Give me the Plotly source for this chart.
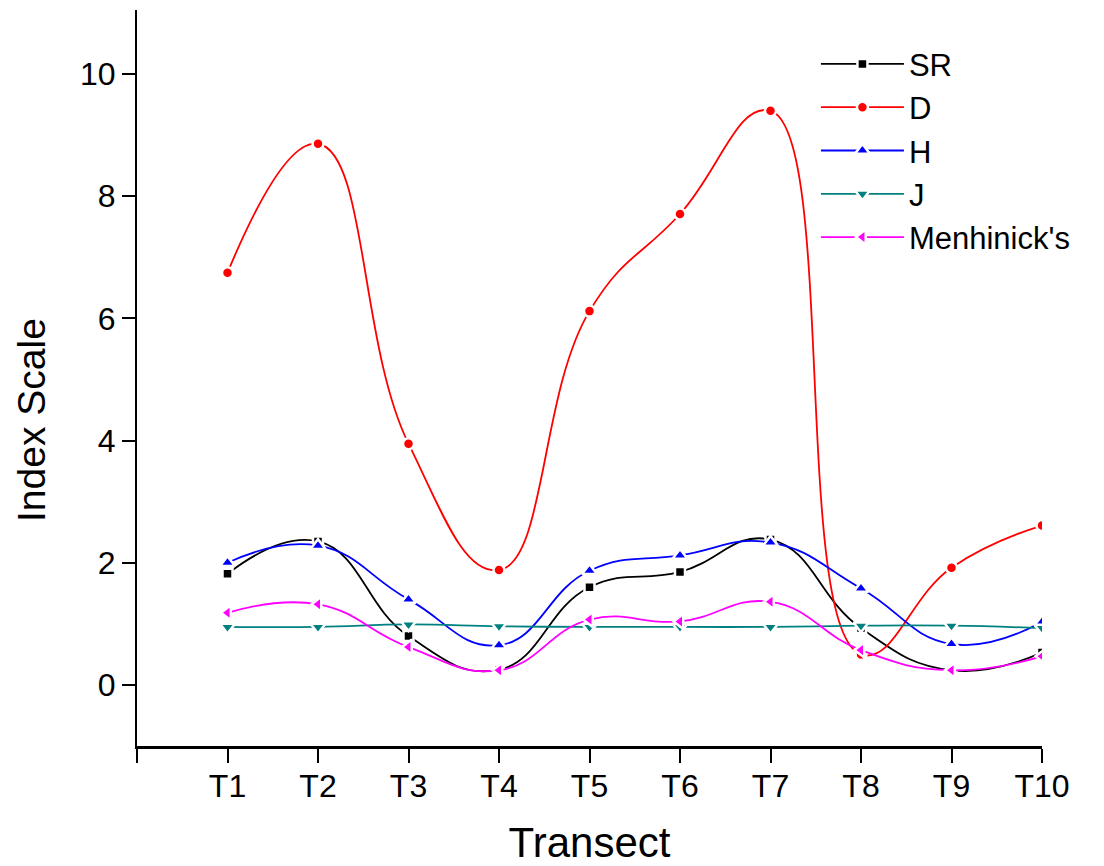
import plotly.graph_objects as go

transects = ["T1", "T2", "T3", "T4", "T5", "T6", "T7", "T8", "T9", "T10"]
x_pos = [1, 2, 3, 4, 5, 6, 7, 8, 9, 10]

sr = [1.82, 2.35, 0.80, 0.25, 1.60, 1.85, 2.38, 0.93, 0.24, 0.53]
d = [6.75, 8.86, 3.95, 1.88, 6.12, 7.71, 9.40, 0.50, 1.92, 2.61]
h = [2.00, 2.28, 1.40, 0.65, 1.87, 2.12, 2.33, 1.58, 0.67, 1.03]
j = [0.95, 0.95, 0.99, 0.96, 0.95, 0.95, 0.95, 0.97, 0.97, 0.93]
menh = [1.18, 1.32, 0.62, 0.24, 1.07, 1.04, 1.36, 0.57, 0.24, 0.47]

series = [
    ("SR", sr, "#000000", "square", 10),
    ("D", d, "#ff0000", "circle", 11),
    ("H", h, "#0000ff", "triangle-up", 13),
    ("J", j, "#008080", "triangle-down", 13),
    ("Menhinick's", menh, "#ff00ff", "triangle-left", 13),
]

fig = go.Figure()
for name, vals, color, sym, size in series:
    fig.add_trace(go.Scatter(
        x=x_pos, y=vals, name=name, mode="lines+markers",
        line=dict(color=color, width=1.8, shape="spline", smoothing=1.3),
        marker=dict(symbol=sym, size=size, color=color,
                    line=dict(color="white", width=2.5)),
    ))

# page body has an 8px margin, so the figure is sized to fit the window
fig.update_layout(
    width=1096, height=858,
    margin=dict(l=129, r=62, t=2, b=120),
    paper_bgcolor="white", plot_bgcolor="white",
    font=dict(family="Liberation Sans, Arial, sans-serif", color="black"),
    showlegend=True,
    legend=dict(
        x=0.7502, y=0.963, xanchor="left", yanchor="top",
        font=dict(size=31, color="black"),
        bgcolor="rgba(0,0,0,0)", itemwidth=83, tracegroupgap=0,
    ),
    xaxis=dict(
        range=[0, 10], tickvals=[0] + x_pos, ticktext=[""] + transects,
        showgrid=False, zeroline=False, showline=True, linecolor="black",
        linewidth=2.5, ticks="outside", ticklen=14, tickwidth=1.8,
        tickcolor="black", tickfont=dict(size=32), automargin=False,
        ticklabelstandoff=-4,
        title=dict(text="Transect", font=dict(size=42), standoff=33),
    ),
    yaxis=dict(
        range=[-1, 11.05], tickvals=[0, 2, 4, 6, 8, 10],
        showgrid=False, zeroline=False, showline=True, linecolor="black",
        linewidth=2, ticks="outside", ticklen=13, tickwidth=1.8,
        tickcolor="black", tickfont=dict(size=32), automargin=False,
    ),
    annotations=[dict(
        text="Index Scale", xref="paper", yref="paper",
        x=-0.116, y=0.443, xanchor="center", yanchor="middle",
        textangle=-90, showarrow=False, font=dict(size=39, color="black"),
    )],
)

fig.write_html("out.html")
